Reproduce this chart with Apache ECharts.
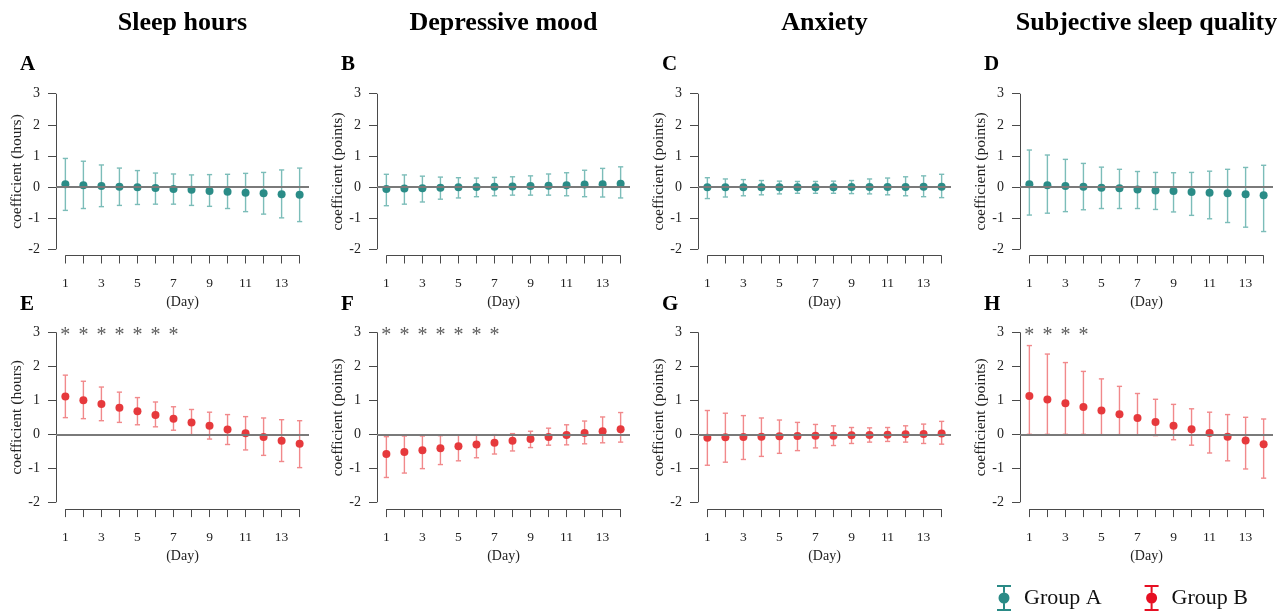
<!DOCTYPE html>
<html>
<head>
<meta charset="utf-8">
<script src="https://cdn.jsdelivr.net/npm/echarts@6/dist/echarts.min.js"></script>
<style>
html,body{margin:0;padding:0;background:#fff;}
#chart{width:1287px;height:612px;}
</style>
</head>
<body>
<div id="chart"></div>
<script>
// ---------- DATA ----------
const DAYS = [1,2,3,4,5,6,7,8,9,10,11,12,13,14];
const X_LABELS = [1,3,5,7,9,11,13];
const Y_TICKS = [-2,-1,0,1,2,3];
const COLUMN_TITLES = ['Sleep hours','Depressive mood','Anxiety','Subjective sleep quality'];
const PANEL_LETTERS = ['A','B','C','D','E','F','G','H'];
const Y_NAMES = ['coefficient (hours)','coefficient (points)','coefficient (points)','coefficient (points)'];
const X_NAME = '(Day)';
const GROUPS = ['Group A','Group B'];

const A_est = [0.09,0.06,0.03,0.01,-0.01,-0.03,-0.06,-0.09,-0.13,-0.15,-0.18,-0.20,-0.23,-0.25];
const A_lo  = [-0.75,-0.69,-0.63,-0.59,-0.56,-0.55,-0.55,-0.59,-0.62,-0.69,-0.79,-0.87,-0.99,-1.11];
const A_hi  = [0.92,0.83,0.71,0.61,0.53,0.45,0.42,0.39,0.40,0.41,0.44,0.47,0.55,0.61];

const B_est = [-0.06,-0.05,-0.04,-0.02,-0.01,0.00,0.01,0.02,0.03,0.04,0.06,0.08,0.09,0.11];
const B_lo  = [-0.60,-0.55,-0.48,-0.39,-0.35,-0.31,-0.28,-0.26,-0.26,-0.26,-0.28,-0.31,-0.32,-0.35];
const B_hi  = [0.41,0.39,0.35,0.32,0.30,0.29,0.31,0.33,0.36,0.42,0.46,0.54,0.60,0.65];

const C_est = [-0.01,-0.01,-0.01,-0.01,-0.01,-0.01,-0.01,-0.01,0.00,0.00,0.00,0.00,0.01,0.01];
const C_lo  = [-0.37,-0.32,-0.28,-0.25,-0.22,-0.20,-0.20,-0.20,-0.21,-0.22,-0.25,-0.28,-0.31,-0.34];
const C_hi  = [0.30,0.26,0.24,0.21,0.19,0.18,0.18,0.19,0.21,0.26,0.29,0.33,0.36,0.41];

const D_est = [0.09,0.06,0.03,0.01,-0.02,-0.04,-0.08,-0.11,-0.13,-0.16,-0.18,-0.20,-0.23,-0.26];
const D_lo  = [-0.90,-0.84,-0.79,-0.73,-0.69,-0.69,-0.69,-0.72,-0.80,-0.91,-1.02,-1.14,-1.29,-1.43];
const D_hi  = [1.19,1.03,0.89,0.76,0.64,0.57,0.50,0.47,0.46,0.47,0.51,0.57,0.63,0.70];

const E_est = [1.11,1.00,0.89,0.78,0.68,0.57,0.46,0.35,0.25,0.14,0.03,-0.08,-0.19,-0.28];
const E_lo  = [0.49,0.46,0.40,0.35,0.28,0.22,0.12,-0.01,-0.14,-0.30,-0.46,-0.62,-0.80,-0.98];
const E_hi  = [1.74,1.56,1.39,1.24,1.08,0.95,0.81,0.73,0.65,0.58,0.52,0.48,0.43,0.40];

const F_est = [-0.58,-0.52,-0.47,-0.41,-0.35,-0.30,-0.25,-0.19,-0.14,-0.08,-0.02,0.04,0.09,0.15];
const F_lo  = [-1.27,-1.14,-1.01,-0.89,-0.78,-0.69,-0.58,-0.49,-0.39,-0.32,-0.31,-0.28,-0.25,-0.23];
const F_hi  = [-0.07,-0.05,-0.05,-0.04,-0.03,-0.02,-0.01,0.02,0.09,0.18,0.28,0.39,0.51,0.64];

const G_est = [-0.10,-0.09,-0.08,-0.07,-0.06,-0.05,-0.04,-0.04,-0.03,-0.02,-0.01,0.00,0.01,0.02];
const G_lo  = [-0.91,-0.82,-0.74,-0.65,-0.56,-0.48,-0.40,-0.33,-0.27,-0.23,-0.21,-0.23,-0.27,-0.29];
const G_hi  = [0.70,0.62,0.55,0.48,0.42,0.35,0.29,0.25,0.20,0.19,0.20,0.25,0.30,0.38];

const H_est = [1.13,1.02,0.91,0.80,0.70,0.59,0.48,0.36,0.25,0.15,0.04,-0.07,-0.18,-0.29];
const H_lo  = [0.00,0.00,0.00,0.00,-0.01,-0.01,-0.03,-0.04,-0.16,-0.32,-0.55,-0.78,-1.02,-1.29];
const H_hi  = [2.61,2.36,2.11,1.85,1.63,1.41,1.20,1.03,0.88,0.75,0.65,0.58,0.50,0.45];

const SIG_A = [], SIG_B = [], SIG_C = [], SIG_D = [];
const SIG_E = [1,2,3,4,5,6,7];
const SIG_F = [1,2,3,4,5,6,7];
const SIG_G = [];
const SIG_H = [1,2,3,4];

// ---------- LAYOUT / STYLE ----------
const FONT = '"Liberation Serif","Times New Roman",serif';
const COL_LEFT = [56, 377, 698, 1020];
const COL_W = 253;
const ROW_TOP = [87.5, 325.5];
const ROW_H = [168, 183.6];
const X_MIN = 0.48, X_MAX = 14.52, Y_MIN = -2.2, Y_MAX = 3.2;
const DOT = ['#2a8c87', '#e6393c'];
const BAR = ['#7cbdb9', '#f1898b'];
const LEG = ['#2a8a86', '#e60f22'];
const AXIS_C = '#4a4a4a';

const panels = [
  [A_est,A_lo,A_hi,SIG_A],[B_est,B_lo,B_hi,SIG_B],[C_est,C_lo,C_hi,SIG_C],[D_est,D_lo,D_hi,SIG_D],
  [E_est,E_lo,E_hi,SIG_E],[F_est,F_lo,F_hi,SIG_F],[G_est,G_lo,G_hi,SIG_G],[H_est,H_lo,H_hi,SIG_H]
];

const grids = [], xAxes = [], yAxes = [], series = [], graphics = [];

COLUMN_TITLES.forEach((t, c) => {
  graphics.push({type:'text', x: COL_LEFT[c] + COL_W/2, y: 23, style:{text:t, align:'center', verticalAlign:'middle', font:'bold 26px ' + FONT, fill:'#000'}});
});

panels.forEach((p, i) => {
  const row = Math.floor(i/4), col = i % 4, g = row;
  const [est, lo, hi, sig] = p;
  grids.push({left: COL_LEFT[col], top: ROW_TOP[row], width: COL_W, height: ROW_H[row], containLabel:false});
  const letterY = row === 0 ? 65 : 304.5;
  graphics.push({type:'text', x: COL_LEFT[col] - 36, y: letterY, style:{text: PANEL_LETTERS[i], align:'left', verticalAlign:'middle', font:'bold 21px ' + FONT, fill:'#000'}});
  xAxes.push({
    type:'value', gridIndex:i, min:X_MIN, max:X_MAX, position:'bottom',
    name: X_NAME, nameLocation:'middle', nameGap:40,
    nameTextStyle:{fontFamily:FONT, fontSize:14, color:'#222'},
    axisLine:{show:false, onZero:false},
    axisTick:{show:true, customValues: DAYS, length:8, lineStyle:{color:AXIS_C, width:1}},
    axisLabel:{show:true, customValues: X_LABELS, margin:21, fontFamily:FONT, fontSize:13.5, color:'#222'},
    splitLine:{show:false}
  });
  yAxes.push({
    type:'value', gridIndex:i, min:Y_MIN, max:Y_MAX,
    name: Y_NAMES[col], nameLocation:'middle', nameRotate:90, nameGap:31,
    nameTextStyle:{fontFamily:FONT, fontSize:15.5, color:'#222'},
    axisLine:{show:false, onZero:false},
    axisTick:{show:true, customValues: Y_TICKS, length:8, lineStyle:{color:AXIS_C, width:1}},
    axisLabel:{show:true, customValues: Y_TICKS, margin:16, fontFamily:FONT, fontSize:14, color:'#222'},
    splitLine:{show:false}
  });
  const name = GROUPS[g];
  // error bars
  series.push({
    type:'custom', name: name, xAxisIndex:i, yAxisIndex:i,
    data: DAYS.map((d, k) => [d, lo[k], hi[k]]),
    encode:{x:0, y:[1,2]},
    silent:true, z:2,
    renderItem: (params, api) => {
      const x = api.value(0);
      const a = api.coord([x, api.value(1)]);
      const b = api.coord([x, api.value(2)]);
      const hw = 2.6;
      const st = {stroke: BAR[g], lineWidth: 1.4, fill: null};
      return {type:'group', children:[
        {type:'line', shape:{x1:a[0], y1:a[1], x2:b[0], y2:b[1]}, style:st},
        {type:'line', shape:{x1:a[0]-hw, y1:a[1], x2:a[0]+hw, y2:a[1]}, style:st},
        {type:'line', shape:{x1:b[0]-hw, y1:b[1], x2:b[0]+hw, y2:b[1]}, style:st}
      ]};
    }
  });
  // points + axis lines + zero line
  series.push({
    type:'scatter', name: name, xAxisIndex:i, yAxisIndex:i,
    data: DAYS.map((d, k) => [d, est[k]]),
    symbol:'circle', symbolSize:8, z:3,
    itemStyle:{color: DOT[g], opacity:1},
    markLine:{
      silent:true, symbol:['none','none'], label:{show:false},
      animation:false,
      data:[
        [{coord:[X_MIN, Y_TICKS[0]], lineStyle:{color:AXIS_C, width:1, type:'solid'}},
         {coord:[X_MIN, Y_TICKS[Y_TICKS.length-1]]}],
        [{coord:[DAYS[0], Y_MIN], lineStyle:{color:AXIS_C, width:1, type:'solid'}},
         {coord:[DAYS[DAYS.length-1], Y_MIN]}],
        {yAxis:0, lineStyle:{color:'#7a7a7a', width:1.8, type:'solid'}}
      ]
    }
  });
  // significance asterisks
  if (sig.length) {
    series.push({
      type:'scatter', name:'sig' + i, xAxisIndex:i, yAxisIndex:i,
      data: sig.map(d => [d, Y_TICKS[Y_TICKS.length-1]]),
      symbolSize:1, itemStyle:{color:'rgba(0,0,0,0)'}, silent:true, z:4,
      label:{show:true, position:'inside', formatter:'*', fontFamily:FONT, fontSize:20, color:'#333', offset:[0,3]}
    });
  }
});

const ICON = 'path://M0,0H14V2H0Z M0,24H14V26H0Z M6,2H8V7.5H6Z M6,18.5H8V24H6Z M1.5,13A5.5,5.5 0 1,1 12.5,13A5.5,5.5 0 1,1 1.5,13Z';

const option = {
  animation:false,
  backgroundColor:'#fff',
  grid: grids, xAxis: xAxes, yAxis: yAxes, series: series,
  graphic: graphics,
  legend:{
    left: 997, top: 585, padding:0, itemWidth:14, itemHeight:26, itemGap:43,
    textStyle:{fontFamily:FONT, fontSize:22, color:'#111', padding:[0,0,0,8]},
    data: GROUPS.map((n, k) => ({name:n, icon:ICON, itemStyle:{color:LEG[k]}}))
  }
};

const chart = echarts.init(document.getElementById('chart'), null, {renderer:'canvas'});
chart.setOption(option);
</script>
</body>
</html>
